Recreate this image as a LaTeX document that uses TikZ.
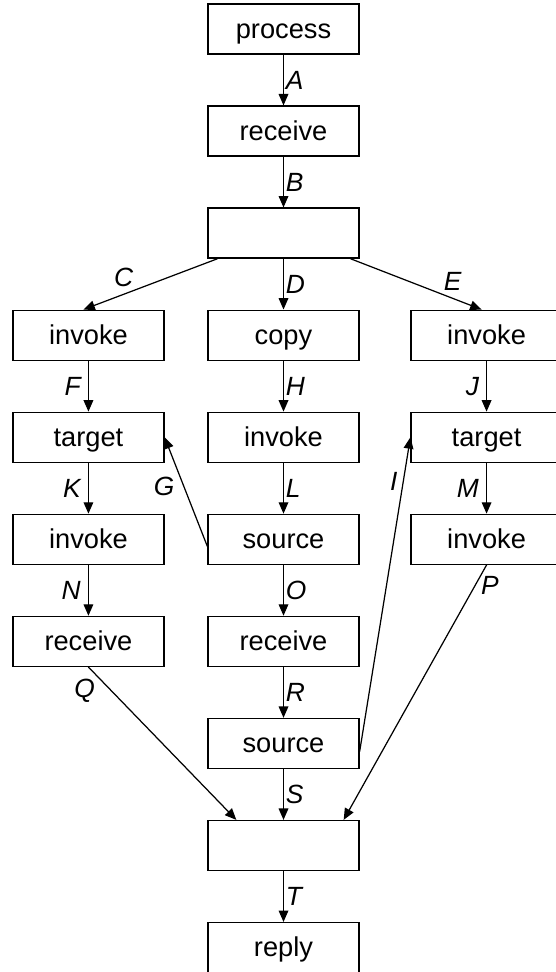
\documentclass[tikz,border=0pt]{standalone}
\usepackage{fontspec}
\setmainfont{Liberation Sans}
\usetikzlibrary{positioning, arrows.meta}

\begin{document}
\begin{tikzpicture}[node distance=1.015cm and 0.855cm,
box/.style={draw, line width=0.75pt, rectangle, minimum height=1cm, minimum width=3.02cm, text height=13pt, text depth=2.7pt, font=\fontsize{15.5}{18}\selectfont},
lbl/.style={inner sep=1pt, font=\fontsize{15}{17}\selectfont\itshape},
arrow/.style={-{Triangle[length=6.5pt,width=5.5pt]}, line width=0.7pt}]
    \useasboundingbox (-5.67,0.58) rectangle (5.43,-18.86);

    % middle column
    \node[box] (process) {process};
    \node[box] (recv) [below=of process] {receive};
    \node[box] (fork) [below=of recv] {};
    \node[box] (copy) [below=of fork] {copy};
    \node[box] (minv) [below=of copy] {invoke};
    \node[box] (msrc) [below=of minv] {source};
    \node[box] (mrecv) [below=of msrc] {receive};
    \node[box] (msrc2) [below=of mrecv] {source};
    \node[box] (join) [below=of msrc2] {};
    \node[box] (reply) [below=of join] {reply};

    % left and right branches
    \node[box] (linv) [left=of copy] {invoke};
    \node[box] (ltgt) [below=of linv] {target};
    \node[box] (linv2) [below=of ltgt] {invoke};
    \node[box] (lrecv) [below=of linv2] {receive};
    \node[box] (rinv) [right=1.015cm of copy] {invoke};
    \node[box] (rtgt) [below=of rinv] {target};
    \node[box] (rinv2) [below=of rtgt] {invoke};

    \draw[arrow] (process) -- node[lbl, right] {A} (recv);
    \draw[arrow] (recv) -- node[lbl, right] {B} (fork);
    \draw[arrow] ([xshift=0.2cm]fork.south west) -- node[lbl, above=3pt, pos=0.7] {C} ([xshift=-0.1cm]linv.north);
    \draw[arrow] (fork) -- node[lbl, right] {D} (copy);
    \draw[arrow] ([xshift=-0.18cm]fork.south east) -- node[lbl, above=3pt, pos=0.78] {E} ([xshift=-0.1cm]rinv.north);
    \draw[arrow] (linv) -- node[lbl, left=3pt] {F} (ltgt);
    \draw[arrow] ([yshift=-0.14cm]msrc.west) -- node[lbl, left=4pt, pos=0.55] {G} (ltgt.east);
    \draw[arrow] (copy) -- node[lbl, right] {H} (minv);
    \draw[arrow] ([yshift=-0.16cm]msrc2.east) -- node[lbl, left=2pt, pos=0.86] {I} (rtgt.west);
    \draw[arrow] (rinv) -- node[lbl, left=3pt] {J} (rtgt);
    \draw[arrow] (ltgt) -- node[lbl, left=3pt] {K} (linv2);
    \draw[arrow] (minv) -- node[lbl, right] {L} (msrc);
    \draw[arrow] (rtgt) -- node[lbl, left=3pt] {M} (rinv2);
    \draw[arrow] (linv2) -- node[lbl, left=3pt] {N} (lrecv);
    \draw[arrow] (msrc) -- node[lbl, right] {O} (mrecv);
    \draw[arrow] (rinv2.south) -- node[lbl, right=2pt, pos=0.08] {P} ([xshift=-0.32cm]join.north east);
    \draw[arrow] (lrecv.south) -- node[lbl, below left, pos=0.06] {Q} ([xshift=0.58cm]join.north west);
    \draw[arrow] (mrecv) -- node[lbl, right] {R} (msrc2);
    \draw[arrow] (msrc2) -- node[lbl, right] {S} (join);
    \draw[arrow] (join) -- node[lbl, right] {T} (reply);
\end{tikzpicture}
\end{document}
